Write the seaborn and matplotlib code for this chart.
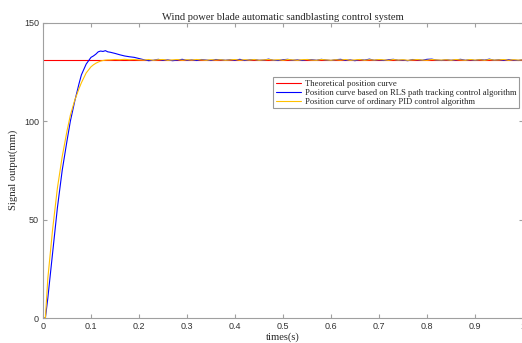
import numpy as np
import pandas as pd
import seaborn as sns
import matplotlib.pyplot as plt

# --- data ---
target_value = 131.1
t_target = [0.0, 1.0]

t_rise = [0.0, 0.005, 0.01, 0.02, 0.03, 0.04, 0.05, 0.057, 0.066, 0.075, 0.08, 0.09,
          0.10, 0.105, 0.11, 0.115, 0.12, 0.125, 0.13, 0.135, 0.14, 0.15, 0.16, 0.17, 0.18, 0.19, 0.20]
rls_rise = [0.0, 0.0, 10.0, 33.0, 56.0, 75.0, 90.0, 100.0, 110.0, 119.0, 123.5, 129.0,
            132.4, 133.1, 134.0, 135.2, 135.6, 135.4, 135.8, 135.2, 135.0, 134.4, 133.7, 133.1, 132.7, 132.4, 131.8]
pid_rise = [0.0, 0.003, 20.0, 45.0, 66.0, 82.0, 95.0, 103.0, 110.5, 116.5, 119.5, 124.5,
            127.6, 128.6, 129.4, 130.0, 130.5, 130.8, 131.0, 131.1, 131.1, 131.3, 131.2, 131.4, 131.2, 131.3, 131.1]

# steady state wiggle, one value every 0.01 s from 0.21 to 1.00
t_steady = [round(0.21 + 0.01 * i, 2) for i in range(80)]
rls_steady = [131.2, 130.7, 130.9, 131.4, 130.9, 131.1, 130.7, 131.0, 131.4, 130.9,
              131.1, 130.8, 131.3, 131.0, 130.8, 131.3, 131.2, 130.9, 131.2, 130.9,
              131.4, 130.8, 131.1, 131.3, 130.9, 131.0, 131.5, 130.9, 130.8, 131.2,
              131.4, 130.9, 131.1, 130.8, 131.3, 131.2, 130.9, 131.4, 131.0, 130.8,
              131.2, 131.4, 130.9, 131.1, 130.7, 131.3, 131.0, 131.5, 130.9, 131.2,
              130.8, 131.2, 131.4, 130.9, 131.0, 130.7, 131.3, 131.2, 130.9, 131.4,
              131.5, 131.0, 130.8, 131.2, 130.9, 131.1, 131.4, 130.9, 131.2, 130.8,
              131.3, 131.0, 131.5, 130.9, 131.2, 130.9, 131.2, 131.0, 130.8, 131.2]
pid_steady = [131.0, 131.3, 130.9, 131.2, 131.3, 130.9, 131.1, 131.3, 130.9, 131.2,
              131.0, 131.3, 131.1, 130.9, 131.2, 131.0, 131.2, 130.9, 131.1, 131.3,
              130.9, 131.2, 131.0, 131.3, 130.9, 131.1, 131.3, 131.0, 131.2, 130.9,
              131.3, 131.1, 130.9, 131.2, 131.3, 131.0, 130.9, 131.3, 131.1, 130.9,
              131.2, 131.0, 131.3, 130.9, 131.1, 131.3, 130.9, 131.2, 131.0, 131.3,
              131.1, 130.9, 131.3, 131.0, 131.2, 130.9, 131.1, 131.3, 131.0, 130.9,
              131.3, 131.1, 131.0, 131.2, 130.9, 131.3, 131.1, 130.9, 131.3, 131.0,
              131.2, 130.9, 131.3, 131.0, 131.1, 131.3, 130.9, 131.2, 131.0, 131.1]

labels = ["Theoretical position curve",
          "Position curve based on RLS path tracking control algorithm",
          "Position curve of ordinary PID control algorithm"]
colors = ["#ff0000", "#0000ff", "#ffc000"]

df_target = pd.DataFrame({"t": t_target, "y": [target_value, target_value]})
df_rls = pd.DataFrame({"t": t_rise + t_steady, "y": rls_rise + rls_steady})
df_pid = pd.DataFrame({"t": t_rise + t_steady, "y": pid_rise + pid_steady})

sns.set_style("ticks")
serif = ["Liberation Serif", "DejaVu Serif"]
plt.rcParams["font.family"] = ["Liberation Sans", "DejaVu Sans"]

fig = plt.figure(figsize=(5.22, 3.43), dpi=100)
ax = fig.add_axes([43 / 522, 25 / 343, 480 / 522, 295.3 / 343])

sns.lineplot(data=df_target, x="t", y="y", ax=ax, color=colors[0], lw=0.8, label=labels[0])
sns.lineplot(data=df_rls, x="t", y="y", ax=ax, color=colors[1], lw=0.8, label=labels[1])
sns.lineplot(data=df_pid, x="t", y="y", ax=ax, color=colors[2], lw=0.8, label=labels[2])

ax.set_xlim(0, 1)
ax.set_ylim(0, 150)
ax.set_xticks(np.arange(0, 1.01, 0.1))
ax.set_xticklabels(["0", "0.1", "0.2", "0.3", "0.4", "0.5", "0.6", "0.7", "0.8", "0.9", "1"])
ax.set_yticks([0, 50, 100, 150])

for s in ax.spines.values():
    s.set_visible(True)
    s.set_color("#a0a0a0")
    s.set_linewidth(0.8)
ax.tick_params(direction="in", length=3, width=0.8, color="#a0a0a0",
               labelsize=6.5, labelcolor="#333333", top=True, right=True, pad=3)

ax.set_title("Wind power blade automatic sandblasting control system",
             family=serif, fontsize=7.6, pad=2)
ax.set_xlabel("times(s)", family=serif, fontsize=7.6, labelpad=1)
ax.set_ylabel("Signal output(mm)", family=serif, fontsize=7.6, labelpad=4)

leg = ax.legend(loc="upper right", bbox_to_anchor=(519 / 522, 1 - 77 / 343),
                bbox_transform=fig.transFigure, prop={"family": serif, "size": 6.2},
                frameon=True, fancybox=False, handlelength=3.0, handletextpad=0.4,
                borderpad=0.3, labelspacing=0.12, borderaxespad=0)
leg.get_frame().set_edgecolor("#808080")
leg.get_frame().set_linewidth(0.8)

fig.savefig("out.png", dpi=100)
